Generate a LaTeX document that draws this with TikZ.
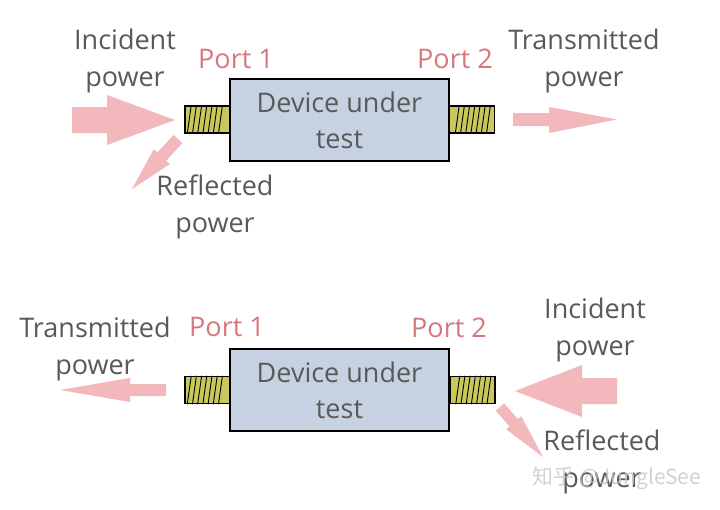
\documentclass[tikz,border=0pt]{standalone}
\usepackage{fontspec}
\setmainfont{Open Sans}
\newfontfamily\cjkfont{Noto Sans CJK SC}
\definecolor{txtgray}{HTML}{595959}
\definecolor{portpink}{HTML}{D6777C}
\definecolor{arrpink}{HTML}{F3B8BC}
\definecolor{boxblue}{HTML}{C6D1E2}
\definecolor{connol}{HTML}{C8C85C}
\begin{document}
\begin{tikzpicture}[x=1pt,y=-1pt,
  lbl/.style={text=txtgray, font=\fontsize{27}{37}\selectfont, align=center, inner sep=0pt},
  portlbl/.style={text=portpink, font=\fontsize{27}{32}\selectfont, inner sep=0pt},
  dut/.style={draw=black, line width=1.8pt, fill=boxblue, minimum width=219pt, minimum height=82pt,
    inner sep=0pt, text=txtgray, font=\fontsize{27}{36}\selectfont, align=center},
  conn/.style={draw=black, line width=1.5pt, fill=connol, minimum width=45pt, minimum height=27pt, inner sep=0pt},
  hatch/.style={draw=black, line width=0.9pt},
  parrow/.style={fill=arrpink, draw=none}]
\useasboundingbox (0,0) rectangle (720,509);
\fill[white] (0,0) rectangle (720,509);

% ---------- top diagram ----------
\node[conn] (cTL) at (207.5,119.5) {};
\node[conn] (cTR) at (472,119.5) {};
\foreach \i in {0,...,6} {
  \draw[hatch] ([xshift={3+5.2*\i}]cTL.south west) -- ([xshift={7+5.2*\i}]cTL.north west);
  \draw[hatch] ([xshift={-40+5.2*\i}]cTR.south east) -- ([xshift={-36+5.2*\i}]cTR.north east);
}
\node[dut] (dT) at (339.5,120) {Device under\\test};

\node[portlbl] (p1T) at (236,59) {Port 1};
\node[portlbl] (p2T) at (455,59) {Port 2};
\node[lbl] (incT) at (125,61) {Incident\\power};
\node[lbl] (trT) at (584,61) {Transmitted\\power};
\node[lbl] (refT) at (215,207) {Reflected\\power};

% incident arrow (top)
\fill[parrow] (72,107) -- (107,107) -- (107,95) -- (175,120) -- (107,145) -- (107,133) -- (72,133) -- cycle;
% reflected arrow (top)
\fill[parrow] (173.6,134.9) -- (157.4,152.5) -- (153.7,149.2) -- (132,189) -- (169.9,164.0) -- (166.2,160.7) -- (182.4,143.1) -- cycle;
% transmitted arrow (top)
\fill[parrow] (513,113) -- (549,113) -- (549,107) -- (617,119.5) -- (549,133) -- (549,126) -- (513,126) -- cycle;

% ---------- bottom diagram ----------
\node[conn] (cBL) at (207.5,390) {};
\node[conn] (cBR) at (472.5,390) {};
\foreach \i in {0,...,6} {
  \draw[hatch] ([xshift={3+5.2*\i}]cBL.south west) -- ([xshift={7+5.2*\i}]cBL.north west);
  \draw[hatch] ([xshift={-40+5.2*\i}]cBR.south east) -- ([xshift={-36+5.2*\i}]cBR.north east);
}
\node[dut] (dB) at (339.5,390) {Device under\\test};

\node[portlbl] (p1B) at (227,327) {Port 1};
\node[portlbl] (p2B) at (449,328) {Port 2};
\node[lbl] (trB) at (95,349) {Transmitted\\power};
\node[lbl] (incB) at (595,330) {Incident\\power};
\node[lbl] (refB) at (602,462) {Reflected\\power};

% transmitted arrow (bottom, leftwards)
\fill[parrow] (166,384) -- (130,384) -- (130,378) -- (60,390) -- (130,402) -- (130,396) -- (166,396) -- cycle;
% incident arrow (bottom, leftwards)
\fill[parrow] (617,378) -- (582,378) -- (582,365) -- (515,391) -- (582,417) -- (582,404) -- (617,404) -- cycle;
% reflected arrow (bottom)
\fill[parrow] (504.2,403.4) -- (517.9,419.2) -- (521.3,416.3) -- (543,457) -- (506.1,429.3) -- (509.5,426.4) -- (495.8,410.6) -- cycle;

% watermark
\node[text=gray!45, font=\cjkfont\fontsize{21}{24}\selectfont, inner sep=0pt, opacity=0.8] (wm) at (617,478) {知乎 @JungleSee};
\end{tikzpicture}
\end{document}
